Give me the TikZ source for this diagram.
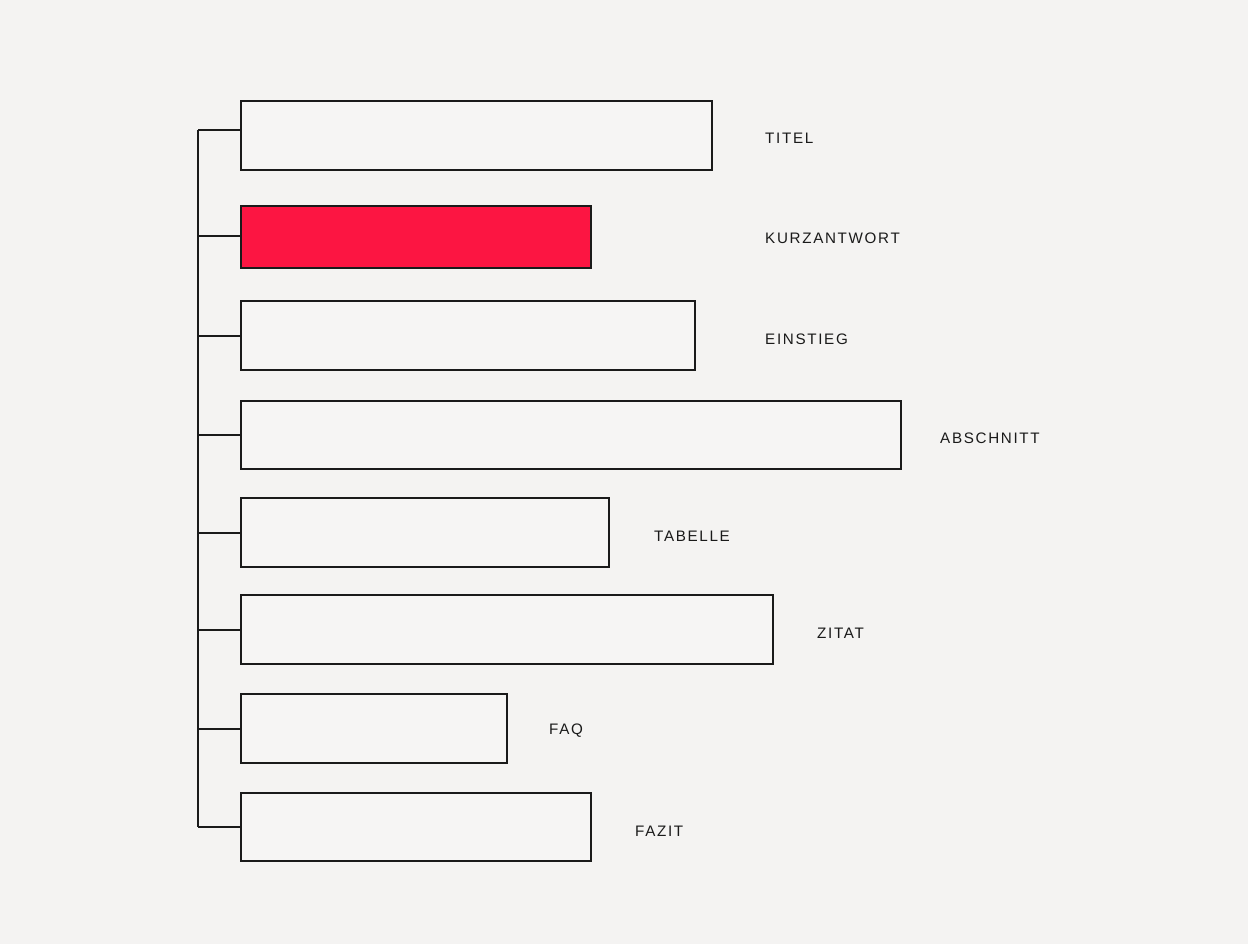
\documentclass[tikz,border=0pt]{standalone}
\usepackage{fontspec}
\setmainfont{Liberation Sans}[LetterSpace=11]
\definecolor{bg}{HTML}{F4F3F2}
\definecolor{boxfill}{HTML}{F6F5F4}
\definecolor{accent}{HTML}{FC1542}
\definecolor{ink}{HTML}{1A1A1A}
\begin{document}
\begin{tikzpicture}[x=1pt,y=-1pt,
  bar/.style={draw=ink,line width=1.2pt,fill=boxfill},
  hot/.style={draw=ink,line width=1.2pt,fill=accent},
  lbl/.style={anchor=west,inner sep=0pt,text=ink,font=\fontsize{15.2}{17}\selectfont},
  link/.style={draw=ink,line width=1.2pt}]
\fill[bg] (0,0) rectangle (1248,944);
\useasboundingbox (0,0) rectangle (1248,944);
% bars
\draw[bar] (241,101) rectangle (712,170); \coordinate (b1) at (241,130);
\draw[hot] (241,206) rectangle (591,268); \coordinate (b2) at (241,236);
\draw[bar] (241,301) rectangle (695,370); \coordinate (b3) at (241,336);
\draw[bar] (241,401) rectangle (901,469); \coordinate (b4) at (241,435);
\draw[bar] (241,498) rectangle (609,567); \coordinate (b5) at (241,533);
\draw[bar] (241,595) rectangle (773,664); \coordinate (b6) at (241,630);
\draw[bar] (241,694) rectangle (507,763); \coordinate (b7) at (241,729);
\draw[bar] (241,793) rectangle (591,861); \coordinate (b8) at (241,827);
% labels
\node[lbl] (t1) at (765,138) {TITEL};
\node[lbl] (t2) at (765,238) {KURZANTWORT};
\node[lbl] (t3) at (765,339) {EINSTIEG};
\node[lbl] (t4) at (940,438) {ABSCHNITT};
\node[lbl] (t5) at (654,536) {TABELLE};
\node[lbl] (t6) at (817,633) {ZITAT};
\node[lbl] (t7) at (549,731) {FAQ};
\node[lbl] (t8) at (635,831) {FAZIT};
% spine
\coordinate (s1) at (198,130);
\coordinate (s8) at (198,827);
\draw[link] (s1) -- (s8);
\foreach \i in {1,...,8}{\draw[link] (b\i) -- (198,0 |- b\i);}
\end{tikzpicture}
\end{document}
